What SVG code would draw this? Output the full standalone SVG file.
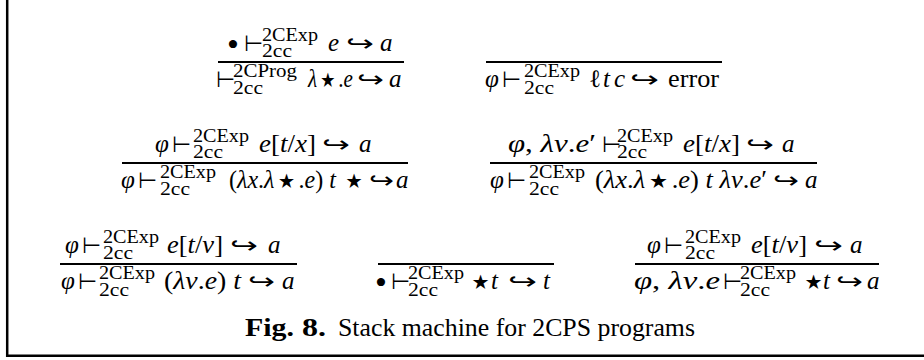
<svg xmlns="http://www.w3.org/2000/svg" width="924" height="360" viewBox="0 0 924 360">
<style>
.t{font-family:"Liberation Serif","DejaVu Serif",serif;fill:#000}
.m{font-size:25px}
.i{font-style:italic}
.sc{font-size:18px}
.op{font-family:"DejaVu Sans","Liberation Serif",sans-serif;font-size:22px;fill:#000}
.st{font-family:"DejaVu Sans",sans-serif;font-size:40px;font-style:normal;fill:#000}
.bu{font-family:"Liberation Serif",serif;font-size:34px;fill:#000}
.bar{stroke:#000;stroke-width:2}
.b{font-weight:bold}
</style>
<rect width="924" height="360" fill="#fff"/>
<path d="M7.2 0V355.8H924" fill="none" stroke="#000" stroke-width="2.5"/>

<g id="rule1">
<text class="bu" x="227" y="56">•</text>
<text class="op" x="244" y="51">⊢</text>
<text class="t sc" x="262" y="41" textLength="56" lengthAdjust="spacingAndGlyphs">2CExp</text>
<text class="t sc" x="262" y="57" textLength="30" lengthAdjust="spacingAndGlyphs">2cc</text>
<text class="t m i" x="328" y="51">e</text>
<text class="op" x="346" y="51" textLength="28" lengthAdjust="spacingAndGlyphs">↪</text>
<text class="t m i" x="380" y="51">a</text>
<line class="bar" x1="218" y1="62" x2="404" y2="62"/>
<text class="op" x="216" y="87">⊢</text>
<text class="t sc" x="233" y="77" textLength="64" lengthAdjust="spacingAndGlyphs">2CProg</text>
<text class="t sc" x="233" y="94" textLength="30" lengthAdjust="spacingAndGlyphs">2cc</text>
<text class="t m" x="308" y="87" textLength="45" lengthAdjust="spacingAndGlyphs"><tspan class="i">λ</tspan><tspan class="st" dy="6">⋆</tspan><tspan dy="-6">.</tspan><tspan class="i">e</tspan></text>
<text class="op" x="357" y="87" textLength="27" lengthAdjust="spacingAndGlyphs">↪</text>
<text class="t m i" x="389" y="87">a</text>
</g>

<g id="rule2">
<line class="bar" x1="486" y1="62" x2="722" y2="62"/>
<text class="t m i" x="485" y="87">φ</text>
<text class="op" x="502" y="87">⊢</text>
<text class="t sc" x="524" y="77" textLength="56" lengthAdjust="spacingAndGlyphs">2CExp</text>
<text class="t sc" x="524" y="94" textLength="30" lengthAdjust="spacingAndGlyphs">2cc</text>
<text class="t m" x="589" y="87">ℓ</text>
<text class="t m i" x="603" y="87">t</text>
<text class="t m i" x="614" y="87">c</text>
<text class="op" x="630" y="87" textLength="29" lengthAdjust="spacingAndGlyphs">↪</text>
<text class="t m" x="668" y="87" textLength="51" lengthAdjust="spacingAndGlyphs">error</text>
</g>

<g id="rule3">
<text class="t m i" x="155" y="152">φ</text>
<text class="op" x="172" y="152">⊢</text>
<text class="t sc" x="193" y="142" textLength="56" lengthAdjust="spacingAndGlyphs">2CExp</text>
<text class="t sc" x="193" y="158" textLength="30" lengthAdjust="spacingAndGlyphs">2cc</text>
<text class="t m" x="259" y="152" textLength="57" lengthAdjust="spacingAndGlyphs"><tspan class="i">e</tspan>[<tspan class="i">t</tspan>/<tspan class="i">x</tspan>]</text>
<text class="op" x="322" y="152" textLength="28" lengthAdjust="spacingAndGlyphs">↪</text>
<text class="t m i" x="359" y="152">a</text>
<line class="bar" x1="122" y1="163" x2="408" y2="163"/>
<text class="t m i" x="121" y="188">φ</text>
<text class="op" x="138" y="188">⊢</text>
<text class="t sc" x="160" y="178" textLength="56" lengthAdjust="spacingAndGlyphs">2CExp</text>
<text class="t sc" x="160" y="195" textLength="30" lengthAdjust="spacingAndGlyphs">2cc</text>
<text class="t m" x="229" y="188" textLength="137" lengthAdjust="spacingAndGlyphs">(<tspan class="i">λx</tspan>.<tspan class="i">λ</tspan><tspan class="st" dy="6">⋆</tspan><tspan dy="-6">.</tspan><tspan class="i">e</tspan>) <tspan class="i">t</tspan> <tspan class="st" dy="6">⋆</tspan></text>
<text class="op" x="369" y="188" textLength="25" lengthAdjust="spacingAndGlyphs">↪</text>
<text class="t m i" x="396" y="188">a</text>
</g>

<g id="rule4">
<text class="t m" x="508" y="152" textLength="88" lengthAdjust="spacingAndGlyphs"><tspan class="i">φ</tspan>, <tspan class="i">λv</tspan>.<tspan class="i">e</tspan>′</text>
<text class="op" x="602" y="152">⊢</text>
<text class="t sc" x="617" y="142" textLength="56" lengthAdjust="spacingAndGlyphs">2CExp</text>
<text class="t sc" x="617" y="158" textLength="30" lengthAdjust="spacingAndGlyphs">2cc</text>
<text class="t m" x="683" y="152" textLength="57" lengthAdjust="spacingAndGlyphs"><tspan class="i">e</tspan>[<tspan class="i">t</tspan>/<tspan class="i">x</tspan>]</text>
<text class="op" x="746" y="152" textLength="28" lengthAdjust="spacingAndGlyphs">↪</text>
<text class="t m i" x="782" y="152">a</text>
<line class="bar" x1="490" y1="163" x2="817" y2="163"/>
<text class="t m i" x="490" y="188">φ</text>
<text class="op" x="507" y="188">⊢</text>
<text class="t sc" x="529" y="178" textLength="56" lengthAdjust="spacingAndGlyphs">2CExp</text>
<text class="t sc" x="529" y="195" textLength="30" lengthAdjust="spacingAndGlyphs">2cc</text>
<text class="t m" x="595" y="188" textLength="172" lengthAdjust="spacingAndGlyphs">(<tspan class="i">λx</tspan>.<tspan class="i">λ</tspan><tspan class="st" dy="6">⋆</tspan><tspan dy="-6">.</tspan><tspan class="i">e</tspan>) <tspan class="i">t</tspan> <tspan class="i">λv</tspan>.<tspan class="i">e</tspan>′</text>
<text class="op" x="773" y="188" textLength="26" lengthAdjust="spacingAndGlyphs">↪</text>
<text class="t m i" x="805" y="188">a</text>
</g>

<g id="rule5">
<text class="t m i" x="65" y="253">φ</text>
<text class="op" x="82" y="253">⊢</text>
<text class="t sc" x="103" y="243" textLength="56" lengthAdjust="spacingAndGlyphs">2CExp</text>
<text class="t sc" x="103" y="259" textLength="30" lengthAdjust="spacingAndGlyphs">2cc</text>
<text class="t m" x="167" y="253" textLength="56" lengthAdjust="spacingAndGlyphs"><tspan class="i">e</tspan>[<tspan class="i">t</tspan>/<tspan class="i">v</tspan>]</text>
<text class="op" x="230" y="253" textLength="28" lengthAdjust="spacingAndGlyphs">↪</text>
<text class="t m i" x="268" y="253">a</text>
<line class="bar" x1="60" y1="264" x2="297" y2="264"/>
<text class="t m i" x="61" y="289">φ</text>
<text class="op" x="78" y="289">⊢</text>
<text class="t sc" x="99" y="279" textLength="56" lengthAdjust="spacingAndGlyphs">2CExp</text>
<text class="t sc" x="99" y="296" textLength="30" lengthAdjust="spacingAndGlyphs">2cc</text>
<text class="t m" x="164" y="289" textLength="77" lengthAdjust="spacingAndGlyphs">(<tspan class="i">λv</tspan>.<tspan class="i">e</tspan>) <tspan class="i">t</tspan></text>
<text class="op" x="248" y="289" textLength="27" lengthAdjust="spacingAndGlyphs">↪</text>
<text class="t m i" x="282" y="289">a</text>
</g>

<g id="rule6">
<line class="bar" x1="378" y1="264" x2="554" y2="264"/>
<text class="bu" x="375" y="294">•</text>
<text class="op" x="391" y="289">⊢</text>
<text class="t sc" x="408" y="279" textLength="56" lengthAdjust="spacingAndGlyphs">2CExp</text>
<text class="t sc" x="408" y="296" textLength="30" lengthAdjust="spacingAndGlyphs">2cc</text>
<text class="st" x="468" y="295">⋆</text>
<text class="t m i" x="491" y="289">t</text>
<text class="op" x="508" y="289" textLength="29" lengthAdjust="spacingAndGlyphs">↪</text>
<text class="t m i" x="543" y="289">t</text>
</g>

<g id="rule7">
<text class="t m i" x="647" y="253">φ</text>
<text class="op" x="664" y="253">⊢</text>
<text class="t sc" x="685" y="243" textLength="56" lengthAdjust="spacingAndGlyphs">2CExp</text>
<text class="t sc" x="685" y="259" textLength="30" lengthAdjust="spacingAndGlyphs">2cc</text>
<text class="t m" x="751" y="253" textLength="56" lengthAdjust="spacingAndGlyphs"><tspan class="i">e</tspan>[<tspan class="i">t</tspan>/<tspan class="i">v</tspan>]</text>
<text class="op" x="814" y="253" textLength="29" lengthAdjust="spacingAndGlyphs">↪</text>
<text class="t m i" x="850" y="253">a</text>
<line class="bar" x1="635" y1="264" x2="879" y2="264"/>
<text class="t m" x="634" y="289" textLength="86" lengthAdjust="spacingAndGlyphs"><tspan class="i">φ</tspan>, <tspan class="i">λv</tspan>.<tspan class="i">e</tspan></text>
<text class="op" x="723" y="289">⊢</text>
<text class="t sc" x="740" y="279" textLength="56" lengthAdjust="spacingAndGlyphs">2CExp</text>
<text class="t sc" x="740" y="296" textLength="30" lengthAdjust="spacingAndGlyphs">2cc</text>
<text class="st" x="801" y="295">⋆</text>
<text class="t m i" x="823" y="289">t</text>
<text class="op" x="836" y="289" textLength="27" lengthAdjust="spacingAndGlyphs">↪</text>
<text class="t m i" x="867" y="289">a</text>
</g>

<g id="caption">
<text class="t m b" x="245" y="336" textLength="49" lengthAdjust="spacingAndGlyphs">Fig.</text>
<text class="t m b" x="302" y="336" textLength="24" lengthAdjust="spacingAndGlyphs">8.</text>
<text class="t m" x="338" y="336" textLength="357" lengthAdjust="spacingAndGlyphs">Stack machine for 2CPS programs</text>
</g>
</svg>
